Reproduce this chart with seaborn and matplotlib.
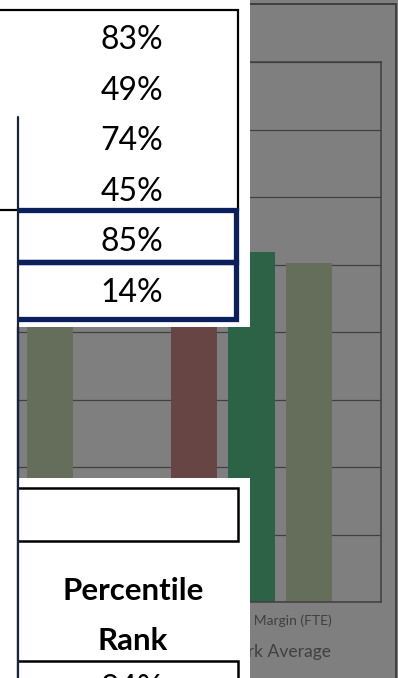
import seaborn as sns
import pandas as pd
import numpy as np
import matplotlib.pyplot as plt
from matplotlib.patches import Rectangle

# chart data
categories = ['Operating Margin (FTE)', 'Contribution Margin (FTE)']
series = ['Organization', 'Peer Group', 'Benchmark Average']
org_vals = [46.0, 57.0]
peer_vals = [44.0, 51.8]
bench_vals = [58.0, 50.2]

# table texts
top_rank = ['83%', '49%', '74%', '45%']
hl_rank = ['85%', '14%']
rank_title = ['Percentile', 'Rank']
low_rank = ['84%']

W, H = 398, 678
GRAY = '#7f7f7f'
DARK = '#404040'
NAVY = '#0b1f5c'

sns.set_theme(style='white')
plt.rcParams['font.family'] = ['Lato', 'DejaVu Sans']

df = pd.DataFrame({
    'Category': np.repeat(categories, 3),
    'Series': series * 2,
    'Value': [v for trio in zip(org_vals, peer_vals, bench_vals) for v in trio],
})

fig = plt.figure(figsize=(W / 100, H / 100), dpi=100, facecolor=GRAY)
renderer = fig.canvas.get_renderer()

# size the legend so that its visible tail "k Average" ends near x 331
probe = fig.text(0, 0, 'k Average', fontsize=12)
tail_w = probe.get_window_extent(renderer).width
probe.remove()
leg_fs = 12 * 77 / tail_w

# plot area (extends past the left edge of the picture)
ax = fig.add_axes([-137 / W, (H - 602) / H, 518 / W, 540 / H])
ax.set_facecolor(GRAY)
sns.barplot(data=df, x='Category', y='Value', hue='Series',
            palette=['#684545', '#2c6346', '#646e5b'], saturation=1,
            width=0.667, gap=0.2, edgecolor='none', linewidth=0, ax=ax)
ax.set_ylim(0, 80)
ax.set_yticks(np.arange(0, 81, 10))
ax.set_yticklabels([])
ax.set_axisbelow(True)
ax.yaxis.grid(True, color=DARK, lw=0.9)
for s in ax.spines.values():
    s.set_color(DARK)
    s.set_linewidth(1.1)
ax.set_xlabel('')
ax.set_ylabel('')
ax.tick_params(axis='x', length=0, pad=9, labelsize=10, labelcolor=DARK)
ax.tick_params(axis='y', length=0)
sns.move_legend(ax, 'center right', bbox_to_anchor=(331 / W, (H - 652) / H),
                bbox_transform=fig.transFigure, ncol=3, frameon=False,
                title=None, fontsize=leg_fs, borderpad=0, borderaxespad=0,
                labelcolor=DARK, handlelength=0.7, columnspacing=1.2)

# overlay in pixel coordinates for the table shapes
ov = fig.add_axes([0, 0, 1, 1])
ov.set_xlim(0, W)
ov.set_ylim(H, 0)
ov.axis('off')
ov.patch.set_alpha(0)

# chart area border
ov.add_patch(Rectangle((-60, 4), 456, 800, fc='none', ec=DARK, lw=1.4))

# left white shape with navy edge
ov.add_patch(Rectangle((-20, 117), 38, 700, fc='white', ec='#17233f', lw=1.6))

# top table
ov.add_patch(Rectangle((0, 0), 250, 327, fc='white', ec='none'))
ov.add_patch(Rectangle((-10, 10), 247.5, 200, fc='none', ec='black', lw=1.6))
row_h = 50.6
for i, t in enumerate(top_rank + hl_rank):
    ov.text(132, 37 + i * row_h, t, ha='center', va='center_baseline',
            fontsize=23, color='black')
clip_hl = Rectangle((18.5, 0), 232, 330, fc='none', ec='none')
ov.add_patch(clip_hl)
for i in range(len(hl_rank)):
    y0 = 209.5 + i * 52
    box = Rectangle((0, y0), 236, 52 if i == 0 else 57.5,
                    fc='none', ec=NAVY, lw=3.8)
    ov.add_patch(box)
    box.set_clip_path(clip_hl)

# lower table
low_bg = Rectangle((19, 478), 231, 300, fc='white', ec='none')
ov.add_patch(low_bg)
box1 = Rectangle((0, 488), 238, 53, fc='none', ec='black', lw=1.8)
box2 = Rectangle((0, 660.5), 238, 60, fc='none', ec='black', lw=1.8)
for b in (box1, box2):
    ov.add_patch(b)
    b.set_clip_path(low_bg)
for i, t in enumerate(rank_title):
    ov.text(133, 588 + i * 51, t, ha='center', va='center_baseline',
            fontsize=22.5, fontweight='bold', color='black')
for t in low_rank:
    ov.text(132, 686, t, ha='center', va='center_baseline',
            fontsize=23, color='black')
ov.plot([18, 18], [117, H + 5], color='#17233f', lw=1.6)

fig.savefig('out.png', dpi=100, facecolor=GRAY)
